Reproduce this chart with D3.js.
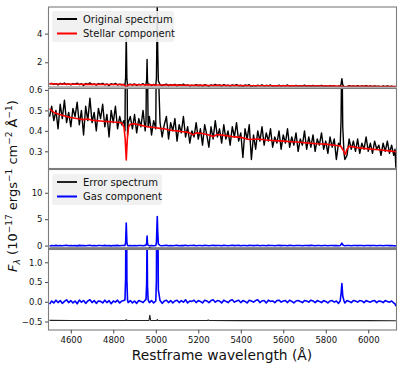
<!DOCTYPE html>
<html>
<head>
<meta charset="utf-8">
<script src="https://cdn.jsdelivr.net/npm/d3@7"></script>
<style>
  body { margin: 0; background: #fff; }
  text { font-family: "DejaVu Sans", sans-serif; fill: #111; }
</style>
</head>
<body>
<svg id="chart" width="399" height="376"></svg>
<script>
// observed spectrum + gas component share one wavelength grid
const wave = [
  4500,4510,4520,4530,4540,4550,4560,4570,4580,4590,
  4600,4610,4620,4630,4640,4650,4660,4670,4680,4690,
  4700,4710,4720,4730,4740,4750,4760,4770,4780,4790,
  4800,4810,4820,4830,4840,4850,4855,4858,4861,4864,
  4867,4870,4880,4890,4900,4910,4920,4930,4940,4950,
  4954,4957,4959,4961,4964,4970,4980,4990,5000,5003,
  5005,5007,5009,5012,5020,5030,5040,5050,5060,5070,
  5080,5090,5100,5110,5120,5130,5140,5150,5160,5170,
  5180,5190,5200,5210,5220,5230,5240,5250,5260,5270,
  5280,5290,5300,5310,5320,5330,5340,5350,5360,5370,
  5380,5390,5400,5410,5420,5430,5440,5450,5460,5470,
  5480,5490,5500,5510,5520,5530,5540,5550,5560,5570,
  5580,5590,5600,5610,5620,5630,5640,5650,5660,5670,
  5680,5690,5700,5710,5720,5730,5740,5750,5760,5770,
  5780,5790,5800,5810,5820,5830,5840,5850,5860,5868,
  5872,5876,5880,5886,5890,5900,5910,5920,5930,5940,
  5950,5960,5970,5980,5990,6000,6010,6020,6030,6040,
  6050,6060,6070,6080,6090,6100,6110,6120,6126,6130
];

const originalFlux = [
  0.47,0.52,0.45,0.50,0.41,0.53,0.46,0.55,0.44,0.49,
  0.42,0.51,0.47,0.54,0.43,0.50,0.38,0.52,0.45,0.56,
  0.44,0.49,0.40,0.51,0.46,0.53,0.42,0.48,0.37,0.50,
  0.44,0.52,0.41,0.47,0.43,0.45,0.40,0.90,4.12,0.80,
  0.38,0.44,0.47,0.41,0.48,0.39,0.46,0.42,0.50,0.40,
  0.45,0.80,2.20,0.70,0.42,0.47,0.38,0.45,0.41,0.90,
  3.50,6.20,3.00,0.70,0.44,0.37,0.43,0.47,0.36,0.44,
  0.40,0.46,0.35,0.43,0.39,0.47,0.37,0.42,0.34,0.40,
  0.37,0.44,0.36,0.41,0.33,0.43,0.38,0.32,0.42,0.36,
  0.45,0.37,0.41,0.34,0.43,0.36,0.40,0.33,0.42,0.37,
  0.44,0.35,0.39,0.27,0.41,0.36,0.43,0.26,0.38,0.31,
  0.40,0.35,0.42,0.33,0.39,0.35,0.41,0.32,0.37,0.34,
  0.40,0.31,0.38,0.34,0.41,0.32,0.37,0.33,0.39,0.30,
  0.36,0.33,0.40,0.31,0.37,0.32,0.38,0.30,0.36,0.33,
  0.39,0.31,0.35,0.29,0.37,0.32,0.36,0.26,0.34,0.33,
  0.45,0.85,0.42,0.29,0.26,0.28,0.36,0.31,0.35,0.30,
  0.36,0.29,0.34,0.31,0.37,0.30,0.34,0.29,0.35,0.31,
  0.33,0.28,0.34,0.30,0.35,0.29,0.33,0.28,0.31,0.22
];

const gasFlux = [
  -0.06,0.02,-0.03,0.04,-0.02,0.03,-0.04,0.01,0.05,-0.02,
  0.03,-0.03,0.02,-0.05,0.04,-0.01,0.03,-0.04,0.02,0.05,
  -0.02,0.03,-0.04,0.02,0.01,-0.03,0.04,-0.02,0.03,-0.05,
  0.02,-0.01,0.04,-0.03,0.02,0.03,0.05,0.60,4.25,0.55,
  0.04,-0.02,0.03,-0.03,0.02,-0.04,0.03,0.01,-0.02,0.04,
  0.06,0.45,1.80,0.40,0.05,-0.02,0.03,-0.03,0.02,0.55,
  3.10,5.50,2.80,0.30,0.03,-0.04,0.02,0.04,-0.02,0.03,
  -0.03,0.02,0.04,-0.02,0.03,-0.01,0.05,-0.03,0.02,0.01,
  0.04,-0.02,0.03,0.01,-0.03,0.04,0.02,-0.02,0.03,0.05,
  -0.01,0.03,0.02,-0.03,0.04,0.01,-0.02,0.03,0.05,-0.01,
  0.02,0.04,-0.02,0.03,0.01,-0.03,0.04,0.02,-0.01,0.03,
  0.05,-0.02,0.02,0.03,-0.03,0.04,0.01,0.02,-0.02,0.03,
  0.04,-0.01,0.02,0.03,-0.02,0.04,0.01,-0.03,0.02,0.03,
  0.01,-0.02,0.03,0.02,-0.01,0.04,0.02,-0.02,0.03,0.01,
  -0.02,0.03,0.01,-0.03,0.02,0.03,-0.01,0.02,-0.04,0.02,
  0.20,0.46,0.15,0.02,-0.03,0.03,0.01,-0.02,0.03,0.02,
  -0.01,0.03,0.02,-0.02,0.03,0.01,-0.01,0.02,0.03,-0.02,
  0.02,0.01,-0.02,0.03,0.01,-0.01,0.02,-0.03,-0.05,-0.11
];

const stellarWave = [
  4500,4520,4540,4560,4580,4600,4620,4640,4660,4680,
  4700,4720,4740,4760,4780,4800,4820,4840,
  4850,4856,4861,4866,4872,4880,
  4900,4920,4940,4960,4980,5000,5020,5040,5060,5080,5100,5120,5140,5160,
  5175,5190,5220,5250,5270,5290,5320,5360,
  5400,5440,5480,5520,5560,5600,5640,5680,5720,5760,5800,5840,
  5870,5885,5892,5900,5910,5950,6000,6050,6100,6130
];
const stellarFlux = [
  0.508,0.490,0.482,0.476,0.470,0.465,0.462,0.458,0.455,0.458,
  0.452,0.450,0.448,0.446,0.445,0.443,0.442,0.438,
  0.420,0.360,0.258,0.360,0.420,0.432,
  0.435,0.430,0.425,0.420,0.418,0.415,0.412,0.410,0.405,0.402,0.400,0.397,0.395,0.390,
  0.380,0.390,0.387,0.380,0.372,0.382,0.378,0.372,
  0.368,0.358,0.360,0.355,0.352,0.350,0.347,0.344,0.340,0.337,0.335,0.330,
  0.326,0.300,0.285,0.310,0.325,0.318,0.312,0.308,0.302,0.298
];

const errorWave = [4500,4600,4700,4800,4857,4861,4865,4950,4968,4972,4976,5000,5004,
                   5007,5010,5100,5200,5243,5247,5251,5400,5600,5800,6000,6130];
const errorFlux = [0.028,0.027,0.027,0.026,0.026,0.045,0.026,0.025,0.025,0.160,0.025,0.025,0.025,
                   0.050,0.025,0.024,0.024,0.024,0.036,0.024,0.023,0.023,0.022,0.022,0.021];
const errorOffset = -0.5;

const xTicks = [4600, 4800, 5000, 5200, 5400, 5600, 5800, 6000];

const svg = d3.select("#chart");
const x = d3.scaleLinear().domain([4495, 6133]).range([48.5, 396.5]);

const original = d3.zip(wave, originalFlux);
const gas = d3.zip(wave, gasFlux);
const stellar = d3.zip(stellarWave, stellarFlux);
const error = d3.zip(errorWave, errorFlux).map(d => [d[0], d[1] + errorOffset]);

const panels = [
  { top: 7, bottom: 87, domain: [0.27, 5.86], ticks: [2, 4], fmt: d3.format("d"),
    series: [
      { data: original, color: "#000", width: 1.4 },
      { data: stellar, color: "#f00", width: 1.6 }
    ],
    legend: { x: 52, y: 11, w: 122, h: 31,
      items: [["Original spectrum", "#000", 2], ["Stellar component", "#f00", 2]] } },
  { top: 88.5, bottom: 168.5, domain: [0.216, 0.607], ticks: [0.3, 0.4, 0.5, 0.6], fmt: d3.format(".1f"),
    series: [
      { data: original, color: "#000", width: 1.4 },
      { data: stellar, color: "#f00", width: 1.6 }
    ] },
  { top: 169.5, bottom: 248.5, domain: [-0.55, 14.4], ticks: [0, 5, 10], fmt: d3.format("d"),
    series: [
      { data: error, color: "#222", width: 1.1 },
      { data: gas, color: "#00f", width: 1.6 }
    ],
    legend: { x: 52, y: 174, w: 110, h: 31,
      items: [["Error spectrum", "#222", 2], ["Gas component", "#00f", 2]] } },
  { top: 249.5, bottom: 330, domain: [-0.715, 1.324], ticks: [-0.5, 0, 0.5, 1.0], fmt: d3.format(".1f"),
    series: [
      { data: error, color: "#222", width: 1.1 },
      { data: gas, color: "#00f", width: 1.6 }
    ] }
];

panels.forEach((p, i) => {
  const y = d3.scaleLinear().domain(p.domain).range([p.bottom, p.top]);
  const g = svg.append("g").attr("class", "panel");

  svg.append("clipPath").attr("id", "clip" + i)
    .append("rect")
    .attr("x", x.range()[0]).attr("y", p.top)
    .attr("width", x.range()[1] - x.range()[0]).attr("height", p.bottom - p.top);

  const line = d3.line().x(d => x(d[0])).y(d => y(d[1]));
  const plot = g.append("g").attr("clip-path", `url(#clip${i})`);
  p.series.forEach(s => {
    plot.append("path")
      .datum(s.data)
      .attr("d", line)
      .attr("fill", "none")
      .attr("stroke", s.color)
      .attr("stroke-width", s.width)
      .attr("stroke-linejoin", "round");
  });

  // y axis
  const ax = g.append("g").attr("transform", `translate(${x.range()[0]},0)`)
    .call(d3.axisLeft(y).tickValues(p.ticks).tickFormat(p.fmt).tickSize(3.5).tickPadding(2.5));
  ax.select(".domain").remove();
  ax.selectAll(".tick line").attr("stroke", "#333").attr("stroke-width", 0.9);
  ax.selectAll(".tick text").attr("font-size", 8.5).attr("font-family", "DejaVu Sans").attr("fill", "#111");

  // frame
  g.append("rect")
    .attr("x", x.range()[0]).attr("y", p.top)
    .attr("width", x.range()[1] - x.range()[0]).attr("height", p.bottom - p.top)
    .attr("fill", "none").attr("stroke", "#7d7d7d").attr("stroke-width", 1.1);

  if (p.legend) {
    const L = p.legend;
    const lg = g.append("g").attr("transform", `translate(${L.x},${L.y})`);
    lg.append("rect").attr("width", L.w).attr("height", L.h).attr("rx", 2.5)
      .attr("fill", "#efefef").attr("fill-opacity", 0.9);
    L.items.forEach((it, k) => {
      const cy = 8 + k * 14.5;
      lg.append("line").attr("x1", 5).attr("x2", 25).attr("y1", cy).attr("y2", cy)
        .attr("stroke", it[1]).attr("stroke-width", it[2]);
      lg.append("text").attr("x", 31).attr("y", cy + 3.5).attr("font-size", 10).text(it[0]);
    });
  }

  if (i === panels.length - 1) {
    const xa = g.append("g").attr("transform", `translate(0,${p.bottom})`)
      .call(d3.axisBottom(x).tickValues(xTicks).tickFormat(d3.format("d")).tickSize(3.5).tickPadding(3));
    xa.select(".domain").remove();
    xa.selectAll(".tick line").attr("stroke", "#333").attr("stroke-width", 0.9);
    xa.selectAll(".tick text").attr("font-size", 8.5).attr("font-family", "DejaVu Sans").attr("fill", "#111");
  }
});

// axis titles
svg.append("text")
  .attr("x", 222).attr("y", 360)
  .attr("text-anchor", "middle")
  .attr("font-size", 13.8)
  .text("Restframe wavelength (Å)");

const ylab = svg.append("text")
  .attr("transform", "translate(17,186) rotate(-90)")
  .attr("text-anchor", "middle")
  .attr("font-size", 13);
const parts = [
  ["F", 0, 13, "italic"], ["λ", 3, 9, "italic"], [" (10", -3, 13], ["−17", -5, 9],
  [" ergs", 5, 13], ["−1", -5, 9], [" cm", 5, 13], ["−2", -5, 9],
  [" Å", 5, 13], ["−1", -5, 9], [")", 5, 13]
];
parts.forEach(pt => {
  ylab.append("tspan")
    .attr("dy", pt[1])
    .attr("font-size", pt[2])
    .attr("font-style", pt[3] || "normal")
    .text(pt[0]);
});
</script>
</body>
</html>
